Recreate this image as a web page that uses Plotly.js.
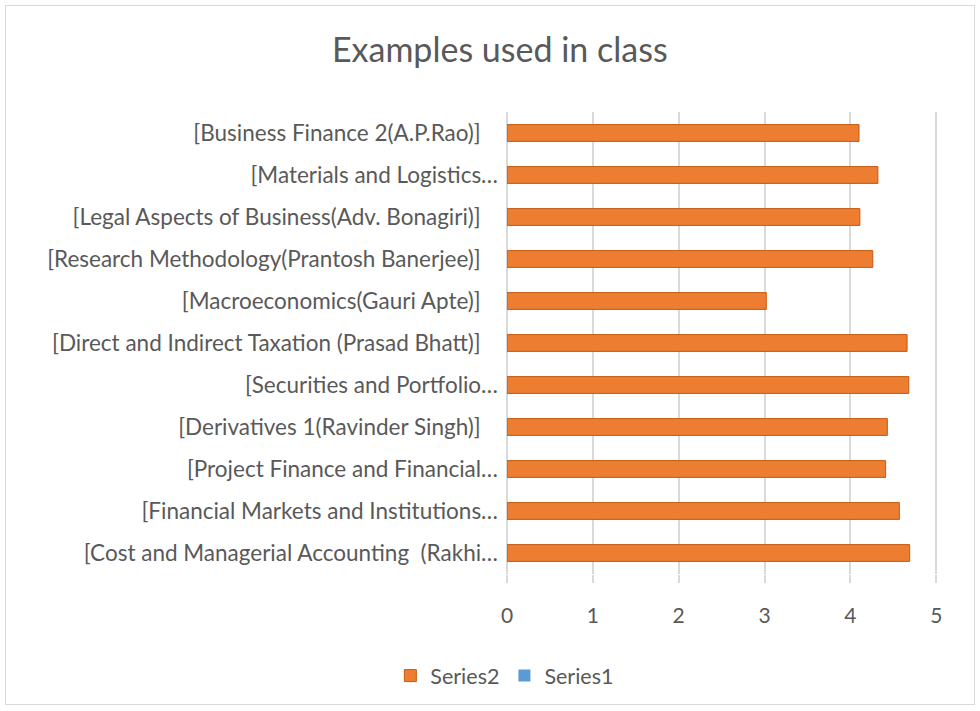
<!DOCTYPE html>
<html>
<head>
<meta charset="utf-8">
<script src="https://cdn.plot.ly/plotly-3.0.1.min.js"></script>
<style>
  html, body { margin: 0; padding: 0; background: #fff; }
  #wrap { position: relative; width: 980px; height: 711px; }
  #chart { width: 980px; height: 711px; }
  #frame { position: absolute; left: 5px; top: 5px; width: 968px; height: 698px;
           border: 1px solid #D9D9D9; pointer-events: none; }
</style>
</head>
<body>
<div id="wrap"><div id="chart"></div><div id="frame"></div></div>
<script>
// Categories, top to bottom as shown
const categories = [
  "[Business Finance 2(A.P.Rao)]\u00a0\u00a0\u00a0",
  "[Materials and Logistics…",
  "[Legal Aspects of Business(Adv. Bonagiri)]\u00a0\u00a0\u00a0",
  "[Research Methodology(Prantosh Banerjee)]\u00a0\u00a0\u00a0",
  "[Macroeconomics(Gauri Apte)]\u00a0\u00a0\u00a0",
  "[Direct and Indirect Taxation (Prasad Bhatt)]\u00a0\u00a0\u00a0",
  "[Securities and Portfolio…",
  "[Derivatives 1(Ravinder Singh)]\u00a0\u00a0\u00a0",
  "[Project Finance and Financial…",
  "[Financial Markets and Institutions…",
  "[Cost and Managerial Accounting  (Rakhi…"
];
const series2 = [4.1, 4.32, 4.11, 4.26, 3.02, 4.66, 4.68, 4.43, 4.41, 4.57, 4.69];
const series1 = [0, 0, 0, 0, 0, 0, 0, 0, 0, 0, 0];
const xTicks = [0, 1, 2, 3, 4, 5];

const FONT = "Lato, 'Open Sans', sans-serif";

const data = [
  {
    type: "bar", orientation: "h", name: "Series2",
    y: categories, x: series2,
    width: 0.4,
    marker: { color: "#ED7D31", line: { color: "#C55A11", width: 1 } },
    hoverinfo: "x+y"
  },
  {
    type: "bar", orientation: "h", name: "Series1",
    y: categories, x: series1,
    width: 0.4,
    marker: { color: "#5B9BD5" },
    hoverinfo: "x+y"
  }
];

const layout = {
  width: 980, height: 711,
  paper_bgcolor: "#FFFFFF", plot_bgcolor: "#FFFFFF",
  margin: { l: 507, r: 42, t: 112, b: 137, autoexpand: false },
  barmode: "overlay",
  title: {
    text: "Examples used in class",
    font: { family: FONT, size: 34, color: "#595959" },
    x: 0.51, xanchor: "center", y: 0.93, yanchor: "middle"
  },
  xaxis: {
    range: [0, 5.02], tickvals: xTicks, ticktext: xTicks.map(String),
    showgrid: true, gridcolor: "#D9D9D9", gridwidth: 2,
    zeroline: true, zerolinecolor: "#D9D9D9", zerolinewidth: 2,
    showline: false,
    ticks: "outside", ticklen: 8, tickcolor: "#D9D9D9", tickwidth: 2,
    ticklabelstandoff: 15,
    tickfont: { family: FONT, size: 21, color: "#595959" },
    fixedrange: true
  },
  yaxis: {
    type: "category", autorange: "reversed",
    showgrid: false, zeroline: false, showline: false,
    ticks: "", ticklabelstandoff: 8,
    tickfont: { family: FONT, size: 22.5, color: "#595959" },
    fixedrange: true
  },
  showlegend: true,
  legend: {
    orientation: "h", x: -0.005, xanchor: "center",
    y: -0.22, yanchor: "middle",
    font: { family: FONT, size: 21.5, color: "#595959" },
    traceorder: "normal"
  }
};

Plotly.newPlot("chart", data, layout, { displayModeBar: false, staticPlot: true });
</script>
</body>
</html>
